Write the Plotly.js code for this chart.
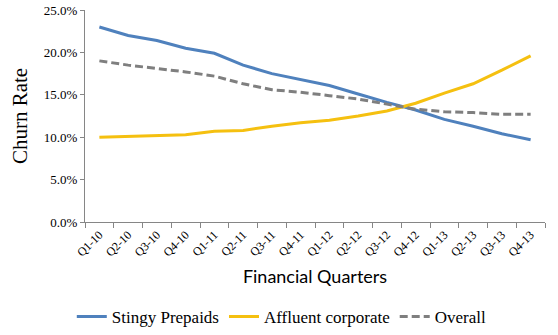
<!DOCTYPE html>
<html>
<head>
<meta charset="utf-8">
<script src="https://cdn.plot.ly/plotly-3.0.1.min.js"></script>
<style>html,body{margin:0;padding:0;background:#fff;}#chart{width:558px;height:335px;}</style>
</head>
<body>
<div id="chart"></div>
<script>
const quarters = ["Q1-10","Q2-10","Q3-10","Q4-10","Q1-11","Q2-11","Q3-11","Q4-11","Q1-12","Q2-12","Q3-12","Q4-12","Q1-13","Q2-13","Q3-13","Q4-13"];
const stingyPrepaids = [23.0, 22.0, 21.4, 20.5, 19.9, 18.5, 17.5, 16.8, 16.1, 15.1, 14.1, 13.2, 12.1, 11.3, 10.4, 9.7];
const affluentCorporate = [10.0, 10.1, 10.2, 10.3, 10.7, 10.8, 11.3, 11.7, 12.0, 12.5, 13.1, 14.0, 15.2, 16.3, 17.9, 19.6];
const overall = [19.0, 18.5, 18.1, 17.7, 17.2, 16.3, 15.6, 15.3, 14.9, 14.5, 13.9, 13.3, 13.0, 12.9, 12.7, 12.7];
const yTicks = [0, 5, 10, 15, 20, 25];
const yTickLabels = ["0.0%", "5.0%", "10.0%", "15.0%", "20.0%", "25.0%"];

const serif = "'Liberation Serif', 'DejaVu Serif', serif";
const traces = [
  {x: quarters, y: stingyPrepaids, name: "Stingy Prepaids", type: "scatter", mode: "lines",
   line: {color: "#4F81BD", width: 3}},
  {x: quarters, y: affluentCorporate, name: "Affluent corporate", type: "scatter", mode: "lines",
   line: {color: "#F5C010", width: 3}},
  {x: quarters, y: overall, name: "Overall", type: "scatter", mode: "lines",
   line: {color: "#7F7F7F", width: 3, dash: "8px,4px"}}
];
const layout = {
  width: 558, height: 335,
  font: {family: serif},
  margin: {l: 85, r: 13, t: 10, b: 113},
  paper_bgcolor: "#fff", plot_bgcolor: "#fff",
  showlegend: true,
  legend: {orientation: "h", xref: "container", yref: "container",
           x: 0.505, xanchor: "center", y: 0.054, yanchor: "middle",
           font: {family: serif, size: 17, color: "#000"}, itemwidth: 30, tracegroupgap: 0},
  xaxis: {
    type: "category", showgrid: false, zeroline: false, automargin: false,
    showline: true, linecolor: "#868686", linewidth: 1,
    ticks: "outside", tickson: "boundaries", ticklen: 5, tickcolor: "#868686",
    tickangle: -45, tickfont: {family: serif, size: 12, color: "#000"},
    range: [-0.5, 15.5],
    title: {text: "Financial Quarters", font: {family: "Lato, 'Noto Sans', sans-serif", size: 18, color: "#000"}, standoff: 11}
  },
  yaxis: {
    range: [0, 25], tickvals: yTicks, ticktext: yTickLabels, automargin: false,
    showgrid: false, zeroline: false,
    showline: true, linecolor: "#868686", linewidth: 1,
    ticks: "outside", ticklen: 4, tickcolor: "#868686",
    tickfont: {family: serif, size: 13, color: "#000"},
    title: {text: "Churn Rate", font: {family: serif, size: 21, color: "#000"}, standoff: 10}
  }
};
Plotly.newPlot("chart", traces, layout, {staticPlot: true, displayModeBar: false});
</script>
</body>
</html>
